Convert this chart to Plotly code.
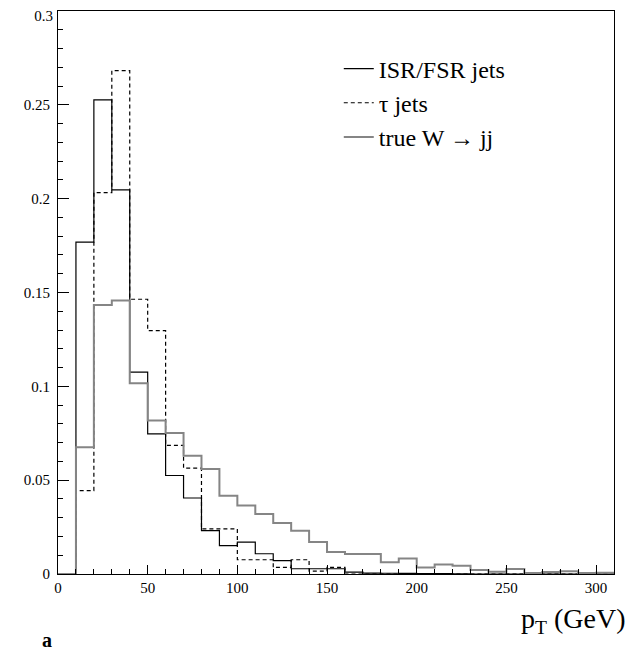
import numpy as np
import plotly.graph_objects as go

# bin edges (GeV)
bin_low = [0, 10, 20, 30, 40, 50, 60, 70, 80, 90, 100, 110, 120, 130, 140, 150,
           160, 170, 180, 190, 200, 210, 220, 230, 240, 250, 260, 270, 280, 290, 300]
bin_high_last = 310

isr_fsr = [0, 0.1768, 0.2526, 0.2047, 0.1076, 0.0747, 0.0525, 0.0405, 0.0231, 0.0151,
           0.0170, 0.0108, 0.0071, 0.0028, 0.0028, 0.0028, 0.0010, 0.0005, 0.0004, 0.0003,
           0.0002, 0.0002, 0.0001, 0, 0, 0, 0, 0, 0, 0, 0]
tau_jets = [0, 0.0444, 0.2032, 0.2682, 0.1464, 0.1297, 0.0685, 0.0564, 0.0240, 0.0240,
            0.0076, 0.0076, 0.0035, 0.0076, 0.0015, 0.0035, 0, 0, 0, 0,
            0, 0, 0, 0, 0, 0, 0, 0, 0, 0, 0]
true_w = [0, 0.0676, 0.1434, 0.1457, 0.1017, 0.0818, 0.0751, 0.0630, 0.0559, 0.0417,
          0.0365, 0.0320, 0.0272, 0.0230, 0.0170, 0.0117, 0.0107, 0.0107, 0.0062, 0.0083,
          0.0035, 0.0051, 0.0044, 0.0021, 0.0012, 0.0027, 0.0005, 0.0010, 0.0014, 0.0005,
          0.0007]

x_ticks = [0, 50, 100, 150, 200, 250, 300]
y_ticks = [0, 0.05, 0.1, 0.15, 0.2, 0.25]
y_tick_labels = ["0", "0.05", "0.1", "0.15", "0.2", "0.25"]
y_top_tick = [0.3]
y_top_label = ["0.3"]

FONT = "Liberation Serif"


def step(vals):
    xs = list(bin_low) + [bin_high_last]
    ys = list(vals) + [vals[-1]]
    return xs, ys


fig = go.Figure()
series = [
    ("ISR/FSR jets", isr_fsr, dict(color="#000000", width=1.2)),
    ("τ jets", tau_jets, dict(color="#000000", width=1.2, dash="4px,3px")),
    ("true W → jj", true_w, dict(color="#858585", width=2)),
]
for name, vals, line in series:
    xs, ys = step(vals)
    fig.add_trace(go.Scatter(x=xs, y=ys, mode="lines", name=name,
                             line=dict(shape="hv", **line)))

# helper axis carrying only the top tick label (nudged down to stay on the page)
fig.add_trace(go.Scatter(x=[0], y=[0], yaxis="y2", mode="markers",
                         marker=dict(opacity=0), showlegend=False, hoverinfo="skip"))

fig.update_layout(
    width=631, height=648,
    margin=dict(l=50, r=25, t=3, b=82),
    plot_bgcolor="white", paper_bgcolor="white",
    font=dict(family=FONT, color="black", size=15),
    showlegend=True,
    legend=dict(x=0.505, y=0.937, xanchor="left", yanchor="top",
                bgcolor="rgba(0,0,0,0)", font=dict(family=FONT, size=24),
                tracegroupgap=0, itemwidth=30),
    xaxis=dict(range=[0, 310], tickvals=x_ticks, ticks="inside", ticklen=9,
               tickwidth=1, tickcolor="black", showgrid=False, zeroline=False,
               showline=True, linecolor="black", linewidth=1, mirror=True,
               automargin=False,
               minor=dict(dtick=10, ticks="inside", ticklen=5, tickcolor="black", tickwidth=1),
               tickfont=dict(family=FONT, size=15)),
    yaxis=dict(range=[0, 0.3], tickvals=y_ticks, ticktext=y_tick_labels,
               ticks="inside", ticklen=11, tickwidth=1, tickcolor="black",
               showgrid=False, zeroline=False, showline=True, linecolor="black",
               linewidth=1, mirror=True, automargin=False,
               minor=dict(tickvals=[round(0.01 * i, 2) for i in range(31)],
                          ticks="inside", ticklen=5, tickcolor="black", tickwidth=1),
               tickfont=dict(family=FONT, size=15), ticklabelstandoff=4),
    yaxis2=dict(range=[0, 0.3], overlaying="y", side="left", tickvals=y_top_tick,
                ticktext=y_top_label, ticks="", showgrid=False, zeroline=False,
                showline=False, automargin=False, ticklabelshift=5,
                ticklabeloverflow="allow", ticklabelstandoff=4,
                tickfont=dict(family=FONT, size=15)),
)

fig.add_annotation(text="p<sub>T</sub> (GeV)", xref="paper", yref="paper",
                   x=1.025, y=-0.083, xanchor="right", yanchor="middle",
                   showarrow=False, font=dict(family=FONT, size=28))
fig.add_annotation(text="<b>a</b>", xref="paper", yref="paper",
                   x=-0.033, y=-0.117, xanchor="left", yanchor="middle",
                   showarrow=False, font=dict(family=FONT, size=20))

fig.write_html("out.html")
